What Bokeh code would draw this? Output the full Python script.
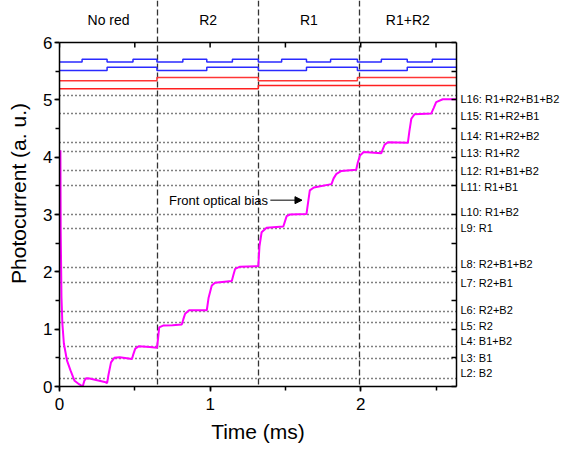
from bokeh.plotting import figure
from bokeh.models import Range1d, LinearAxis, Label, Arrow, NormalHead, SingleIntervalTicker, FixedTicker
from bokeh.core.properties import value
from bokeh.embed import file_html
from bokeh.resources import INLINE

# ---- data ----
time_ms = [0.006, 0.008, 0.013, 0.019, 0.029, 0.050, 0.073, 0.100, 0.130, 0.154,
           0.165, 0.177, 0.200, 0.250, 0.300, 0.316, 0.325, 0.342, 0.364, 0.400,
           0.481, 0.490, 0.503, 0.525, 0.600, 0.647, 0.655, 0.662, 0.691, 0.750,
           0.812, 0.822, 0.834, 0.861, 0.978, 0.990, 1.011, 1.033, 1.144, 1.155,
           1.166, 1.199, 1.320, 1.328, 1.342, 1.375, 1.486, 1.497, 1.508, 1.530,
           1.640, 1.650, 1.662, 1.689, 1.806, 1.820, 1.839, 1.872, 1.970, 1.980,
           1.995, 2.020, 2.137, 2.148, 2.159, 2.181, 2.313, 2.323, 2.336, 2.358,
           2.468, 2.485, 2.501, 2.545, 2.636]
photocurrent = [4.12, 2.72, 1.56, 1.10, 0.75, 0.45, 0.28, 0.10, 0.04, 0.00,
                0.10, 0.145, 0.14, 0.11, 0.08, 0.06, 0.20, 0.42, 0.50, 0.51,
                0.48, 0.56, 0.66, 0.70, 0.69, 0.675, 0.85, 1.03, 1.065, 1.07,
                1.08, 1.17, 1.27, 1.33, 1.33, 1.55, 1.76, 1.81, 1.84, 1.95,
                2.05, 2.09, 2.10, 2.45, 2.69, 2.77, 2.79, 2.88, 2.97, 3.00,
                3.01, 3.20, 3.42, 3.47, 3.53, 3.63, 3.71, 3.76, 3.78, 3.90,
                4.03, 4.09, 4.07, 4.15, 4.22, 4.26, 4.25, 4.45, 4.67, 4.75,
                4.76, 4.86, 4.96, 5.01, 5.01]

level_names = ["L2: B2", "L3: B1", "L4: B1+B2", "L5: R2", "L6: R2+B2",
               "L7: R2+B1", "L8: R2+B1+B2", "L9: R1", "L10: R1+B2", "L11: R1+B1",
               "L12: R1+B1+B2", "L13: R1+R2", "L14: R1+R2+B2", "L15: R1+R2+B1",
               "L16: R1+R2+B1+B2"]
level_values = [0.145, 0.49, 0.70, 1.11, 1.31, 1.81, 2.08, 2.76, 3.00, 3.51,
                3.77, 4.10, 4.26, 4.76, 5.07]
level_label_y = [0.23, 0.49, 0.79, 1.06, 1.33, 1.80, 2.13, 2.76, 3.04, 3.48,
                 3.76, 4.08, 4.37, 4.72, 5.01]

region_names = ["No red", "R2", "R1", "R1+R2"]
region_edges = [0.0, 0.652, 1.322, 1.99, 2.636]

switch_t = [0.0, 0.150, 0.316, 0.488, 0.647, 0.819, 0.978, 1.148, 1.320,
            1.475, 1.640, 1.800, 1.978, 2.137, 2.309, 2.475, 2.636]
b2_state = [0, 1, 0, 1, 0, 1, 0, 1, 0, 1, 0, 1, 0, 1, 0, 1]
b1_state = [0, 0, 1, 1, 0, 0, 1, 1, 0, 0, 1, 1, 0, 0, 1, 1]
r2_state = [0, 0, 0, 0, 1, 1, 1, 1, 0, 0, 0, 0, 1, 1, 1, 1]
r1_state = [0, 0, 0, 0, 0, 0, 0, 0, 1, 1, 1, 1, 1, 1, 1, 1]
b2_levels = (5.66, 5.71)
b1_levels = (5.51, 5.57)
r2_levels = (5.335, 5.39)
r1_levels = (5.195, 5.25)

FONT = "Liberation Sans"
X_MAX = 2.636
Y_TOP = 6.0

# layout (pixels)
W, H = 562, 448
B_LEFT, B_RIGHT, B_BOTTOM = 59, 105, 62
FRAME_TOP_PX = 42                      # distance of the y=6 line from the top
frame_h = H - B_BOTTOM
px_per_unit = (frame_h - FRAME_TOP_PX) / Y_TOP
y_extent = frame_h / px_per_unit        # the frame reaches up to the figure top

p = figure(width=W, height=H, output_backend="svg", toolbar_location=None,
           x_range=Range1d(0, X_MAX), y_range=Range1d(0, y_extent),
           min_border_left=B_LEFT, min_border_right=B_RIGHT, min_border_top=0,
           min_border_bottom=B_BOTTOM)
p.grid.visible = False
p.outline_line_color = None
p.background_fill_color = "white"
p.border_fill_color = "white"

for ax in (p.xaxis[0], p.yaxis[0]):
    ax.axis_line_width = 1.5
    ax.major_tick_line_width = 1.5
    ax.minor_tick_line_width = 1.5
    ax.major_tick_in = 0
    ax.major_tick_out = 5
    ax.minor_tick_in = 0
    ax.minor_tick_out = 4
    ax.major_label_text_font = FONT
    ax.major_label_text_font_size = "17px"
    ax.major_label_text_color = "black"
    ax.axis_label_text_font = FONT
    ax.axis_label_text_font_size = "21px"
    ax.axis_label_text_font_style = "normal"
    ax.axis_label_text_color = "black"
    ax.ticker = SingleIntervalTicker(interval=1, num_minor_ticks=2)

p.yaxis.bounds = (0, Y_TOP)
p.xaxis.axis_label = "Time (ms)"
p.yaxis.axis_label = "Photocurrent (a. u.)"
p.xaxis.major_label_standoff = 6
p.xaxis.axis_label_standoff = 7
p.yaxis.major_label_standoff = 2
p.yaxis.axis_label_standoff = 10

half_x = [i * 0.5 for i in range(6)]
half_y = [i * 0.5 for i in range(13)]

right_ax = LinearAxis(ticker=FixedTicker(ticks=level_label_y, minor_ticks=half_y),
                      bounds=(0, Y_TOP),
                      major_label_overrides=dict(zip(level_label_y, level_names)),
                      major_tick_in=0, major_tick_out=0, minor_tick_in=5, minor_tick_out=0,
                      major_label_standoff=4, axis_line_width=1.5, minor_tick_line_width=1.5,
                      major_label_text_font=FONT, major_label_text_font_size="11px",
                      major_label_text_color="black")
p.add_layout(right_ax, "right")

# top edge of the data frame at y = 6, with inward ticks
tick_len = 5 / px_per_unit
p.hspan(y=[Y_TOP], line_color="black", line_width=1.5)
p.segment(x0=half_x, y0=[Y_TOP] * len(half_x), x1=half_x,
          y1=[Y_TOP - tick_len] * len(half_x), line_color="black", line_width=1.5)

# dotted level lines
p.hspan(y=level_values, line_color="black", line_dash="1 3", line_width=1.4)
# region boundaries (reach the top of the picture)
p.vspan(x=region_edges[1:-1], line_color="#333333", line_dash="6 3", line_width=1.3)

# region names above the frame
mids = [(region_edges[i] + region_edges[i + 1]) / 2 for i in range(len(region_names))]
name_y = Y_TOP + 23 / px_per_unit
p.text(x=mids, y=[name_y] * len(mids), text=region_names, text_align="center",
       text_baseline="middle", text_font=value(FONT), text_font_size="14px",
       text_color="black")

# illumination signals
def stepped(states, lv):
    ys = [lv[s] for s in states]
    return ys + [ys[-1]]

p.step(switch_t, stepped(b2_state, b2_levels), mode="after", line_color="#2a2aff", line_width=1.5)
p.step(switch_t, stepped(b1_state, b1_levels), mode="after", line_color="#2a2aff", line_width=1.5)
p.step(switch_t, stepped(r2_state, r2_levels), mode="after", line_color="#ff3535", line_width=1.5)
p.step(switch_t, stepped(r1_state, r1_levels), mode="after", line_color="#ff2020", line_width=1.5)

# photocurrent
p.line(time_ms, photocurrent, line_color="#ff00ff", line_width=2)

# annotation
p.add_layout(Label(x=1.385, y=3.25, text="Front optical bias", text_align="right",
                   text_baseline="middle", text_font=FONT, text_font_size="13px",
                   text_color="black"))
p.add_layout(Arrow(x_start=1.40, y_start=3.25, x_end=1.61, y_end=3.25,
                   line_color="black", line_width=1,
                   end=NormalHead(size=7, fill_color="black", line_color="black")))

open("out.html", "w").write(file_html(p, INLINE))
